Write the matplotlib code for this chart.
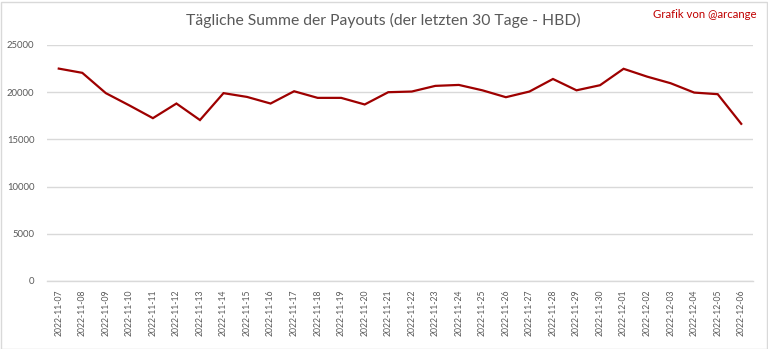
import matplotlib
matplotlib.use("Agg")
import matplotlib.pyplot as plt
from matplotlib.patches import Rectangle

dates = [
    "2022-11-07", "2022-11-08", "2022-11-09", "2022-11-10", "2022-11-11",
    "2022-11-12", "2022-11-13", "2022-11-14", "2022-11-15", "2022-11-16",
    "2022-11-17", "2022-11-18", "2022-11-19", "2022-11-20", "2022-11-21",
    "2022-11-22", "2022-11-23", "2022-11-24", "2022-11-25", "2022-11-26",
    "2022-11-27", "2022-11-28", "2022-11-29", "2022-11-30", "2022-12-01",
    "2022-12-02", "2022-12-03", "2022-12-04", "2022-12-05", "2022-12-06",
]
payouts_hbd = [
    22500, 22050, 19900, 18600, 17250,
    18800, 17050, 19900, 19500, 18800,
    20100, 19400, 19400, 18700, 20000,
    20070, 20670, 20770, 20200, 19470,
    20070, 21400, 20200, 20740, 22480,
    21650, 20950, 19960, 19790, 16650,
]
y_ticks = [0, 5000, 10000, 15000, 20000, 25000]

title = "Tägliche Summe der Payouts (der letzten 30 Tage - HBD)"
credit = "Grafik von @arcange"

text_gray = "#595959"
grid_gray = "#d9d9d9"
line_red = "#9e0000"

plt.rcParams["font.family"] = ["Lato", "DejaVu Sans"]

fig = plt.figure(figsize=(7.68, 3.49), dpi=100)
ax = fig.add_axes([47 / 768, 68 / 349, 706 / 768, 236 / 349])

x = list(range(len(dates)))
ax.plot(x, payouts_hbd, color=line_red, linewidth=1.6, solid_joinstyle="miter")

ax.set_xlim(-0.5, len(dates) - 0.5)
ax.set_ylim(0, 25000)
ax.set_yticks(y_ticks)
ax.set_yticklabels([str(v) for v in y_ticks])
ax.set_xticks(x)
ax.set_xticklabels(dates, rotation=90)

ax.grid(axis="y", color=grid_gray, linewidth=1.0)
ax.set_axisbelow(True)
for side in ("top", "right", "left"):
    ax.spines[side].set_visible(False)
ax.spines["bottom"].set_color(grid_gray)
ax.spines["bottom"].set_linewidth(1.0)

ax.tick_params(axis="both", length=0, colors=text_gray)
ax.tick_params(axis="y", pad=9, labelsize=6.8)
ax.tick_params(axis="x", pad=6, labelsize=6.2)

fig.text(383 / 768, 1 - 20 / 349, title, ha="center", va="center",
         fontsize=11.3, color=text_gray)
fig.text(757 / 768, 1 - 15 / 349, credit, ha="right", va="center",
         fontsize=8.2, color="#c00000")

fig.patches.append(Rectangle((0.5 / 768, 0.5 / 349), 766 / 768, 347 / 349,
                             transform=fig.transFigure, fill=False,
                             edgecolor="#d9d9d9", linewidth=1.0))

fig.savefig("out.png", dpi=100)
